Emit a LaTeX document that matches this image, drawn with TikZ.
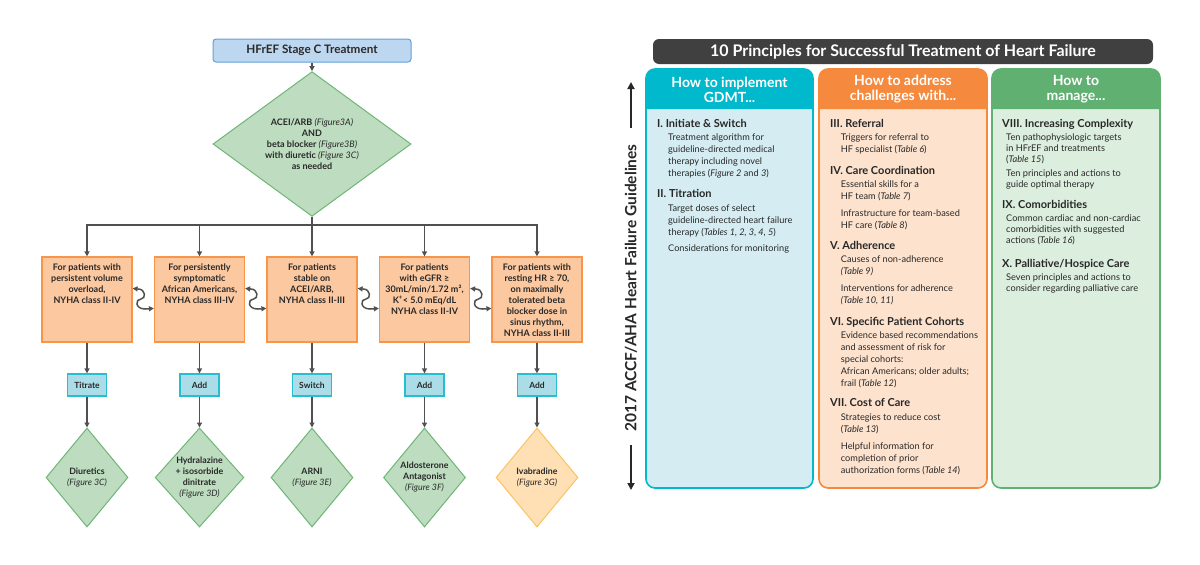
\documentclass[tikz,border=0pt]{standalone}
\usepackage{fontspec}
\setmainfont{Lato}
\usetikzlibrary{shapes.geometric,arrows.meta,calc}
\definecolor{conncol}{RGB}{80,80,80}
\definecolor{txt}{RGB}{40,40,40}
\definecolor{topfill}{RGB}{190,215,240}
\definecolor{topdraw}{RGB}{100,160,215}
\definecolor{gfill}{RGB}{190,221,192}
\definecolor{gdraw}{RGB}{110,181,118}
\definecolor{ofill}{RGB}{251,200,160}
\definecolor{odraw}{RGB}{247,150,75}
\definecolor{cfill}{RGB}{170,221,231}
\definecolor{cdraw}{RGB}{40,190,210}
\definecolor{yfill}{RGB}{255,224,180}
\definecolor{ydraw}{RGB}{250,195,100}
\definecolor{titlebg}{RGB}{64,64,64}
\definecolor{bluehd}{RGB}{0,185,205}
\definecolor{bluebd}{RGB}{213,237,242}
\definecolor{orahd}{RGB}{245,138,62}
\definecolor{orabd}{RGB}{253,226,206}
\definecolor{grnhd}{RGB}{96,176,114}
\definecolor{grnbd}{RGB}{220,238,222}
\newcommand\fsz[2]{\fontsize{#1}{#2}\selectfont}
\newcommand\para[1]{\parbox[t]{155pt}{\raggedright #1}}
\newcommand\fig[1]{{\mdseries\itshape #1}}
\newcommand\boxtxt[1]{\parbox[c][71pt][t]{88pt}{\centering #1}}
\newcommand\sconn[3]{\draw[darr] ($(#1.north east)+(0,32)$) -- (#3+6,289) .. controls (#3+14,289) and (#3+14,299) .. (#3+9,299) .. controls (#3+3,299) and (#3+3,309) .. (#3+13,309) -- ($(#2.north west)+(0,52)$);}
\newcommand\pcol[4]{%
 \draw[draw=#3, fill=#4, line width=1.6pt, rounded corners=9pt] (#1,69) rectangle (#2,488);
 \fill[#3] (#1,109) [rounded corners=9pt] -- (#1,69) -- (#2,69) [sharp corners] -- (#2,109) -- cycle;}
\begin{document}
\begin{tikzpicture}[x=1pt,y=-1pt,
 conn/.style={draw=conncol,line width=1.5pt},
 arr/.style={conn,-{Triangle[length=5pt,width=5pt]}},
 darr/.style={conn,{Triangle[length=5pt,width=5pt]}-{Triangle[length=5pt,width=5pt]}},
 varr/.style={draw=txt,line width=2.4pt,-{Triangle[length=7pt,width=7pt]}},
 topbox/.style={draw=topdraw,fill=topfill,line width=1pt,rounded corners=3pt,minimum width=198pt,minimum height=23pt,inner sep=0pt,font=\bfseries\fsz{11.7}{13},text=txt},
 gdia/.style={diamond,draw=gdraw,fill=gfill,line width=1pt,inner sep=0pt,align=center,font=\bfseries\fsz{8.8}{11},text=txt},
 ydia/.style={gdia,draw=ydraw,fill=yfill},
 pbox/.style={draw=odraw,fill=ofill,line width=1.2pt,minimum width=90pt,minimum height=85pt,inner sep=0pt,font=\bfseries\fsz{9}{11},text=txt},
 abox/.style={draw=cdraw,fill=cfill,line width=1.2pt,minimum width=39pt,minimum height=22pt,inner sep=0pt,font=\bfseries\fsz{8.5}{9},text=txt},
 hd/.style={text=white,font=\bfseries\fsz{14}{15},align=center,inner sep=0pt},
 sec/.style={anchor=base west,inner sep=0pt,font=\bfseries\fsz{11}{12},text=txt},
 sub/.style={anchor=base west,inner sep=0pt,font=\fsz{9.2}{12.2},text=txt},
 subg/.style={anchor=base west,inner sep=0pt,font=\fsz{9.2}{11},text=txt},
]
\fill[white] (0,0) rectangle (1200,565);
\useasboundingbox (0,0) rectangle (1200,565);
% ---------- left flowchart ----------
\node[topbox] (top) at (312,50.5) {HFrEF Stage C Treatment};
\node[gdia,font=\bfseries\fsz{9}{11},minimum width=198pt,minimum height=98pt] (dia) at (312,144)
 {ACEI/ARB \fig{(Figure3A)}\\AND\\beta blocker \fig{(Figure3B)}\\with diuretic \fig{(Figure 3C)}\\as needed};
\coordinate (bus) at (312,225);
\node[pbox] (b1) at (87,299.5) {\boxtxt{For patients with\\persistent volume\\overload,\\NYHA class II-IV}};
\node[pbox] (b2) at (199.5,299.5) {\boxtxt{For persistently\\symptomatic\\African Americans,\\NYHA class III-IV}};
\node[pbox] (b3) at (312,299.5) {\boxtxt{For patients\\stable on\\ACEI/ARB,\\NYHA class II-III}};
\node[pbox] (b4) at (424.5,299.5) {\boxtxt{For patients\\with eGFR ≥\\30mL/min/1.72 m²,\\K\textsuperscript{+}< 5.0 mEq/dL\\NYHA class II-IV}};
\node[pbox] (b5) at (537,299.5) {\boxtxt{For patients with\\resting HR ≥ 70,\\on maximally\\tolerated beta\\blocker dose in\\sinus rhythm,\\NYHA class II-III}};
\node[abox] (a1) at (87,385) {Titrate};
\node[abox] (a2) at (199.5,385) {Add};
\node[abox] (a3) at (312,385) {Switch};
\node[abox] (a4) at (424.5,385) {Add};
\node[abox] (a5) at (537,385) {Add};
\node[gdia,minimum width=82pt,minimum height=99pt] (d1) at (87,477.5) {Diuretics\\\fig{(Figure 3C)}};
\node[gdia,minimum width=82pt,minimum height=99pt] (d2) at (199.5,477.5) {Hydralazine\\+ isosorbide\\dinitrate\\\fig{(Figure 3D)}};
\node[gdia,minimum width=82pt,minimum height=99pt] (d3) at (312,477.5) {ARNI\\\fig{(Figure 3E)}};
\node[gdia,minimum width=82pt,minimum height=99pt] (d4) at (424.5,477.5) {Aldosterone\\Antagonist\\\fig{(Figure 3F)}};
\node[ydia,minimum width=82pt,minimum height=99pt] (d5) at (537,477.5) {Ivabradine\\\fig{(Figure 3G)}};
\draw[arr] (top) -- (dia);
\foreach \b in {b1,b2,b3,b4,b5} \draw[arr] (dia.south) -- (bus) -| (\b.north);
\foreach \i in {1,...,5} {\draw[arr] (b\i.south) -- (a\i.north); \draw[arr] (a\i.south) -- (d\i.north);}
\sconn{b1}{b2}{132}
\sconn{b2}{b3}{244.5}
\sconn{b3}{b4}{357}
\sconn{b4}{b5}{469.5}
% ---------- right panel ----------
\node[fill=titlebg,rounded corners=6pt,minimum width=500pt,minimum height=25pt,text=white,font=\bfseries\fsz{16}{17},inner sep=0pt] (title) at (903,51.5) {10 Principles for Successful Treatment of Heart Failure};
\pcol{646}{813}{bluehd}{bluebd}
\pcol{819}{987}{orahd}{orabd}
\pcol{992}{1160}{grnhd}{grnbd}
\node[hd] (h1) at (729.5,89.5) {How to implement\\GDMT...};
\node[hd] (h2) at (903,89.5) {How to address\\challenges with...};
\node[hd] (h3) at (1076,89.5) {How to\\manage...};
\node[rotate=90,inner sep=0pt,font=\bfseries\fsz{15.5}{16},text=txt] (vt) at (631,288) {2017 ACCF/AHA Heart Failure Guidelines};
\draw[varr] ($(vt.east)+(0,-16)$) -- (631,82);
\draw[varr] ($(vt.west)+(0,13)$) -- (631,490);
% blue column
\node[sec] (s1) at (657,127.6) {I. Initiate \& Switch};
\node[sub] (t1) at (668,140.3) {\para{Treatment algorithm for\\guideline-directed medical\\therapy including novel\\therapies (\textit{Figure 2} and \textit{3})}};
\node[sec] (s2) at (657,197.9) {II. Titration};
\node[sub] (t2) at (668,211.3) {\para{Target doses of select\\guideline-directed heart failure\\therapy (\textit{Tables 1, 2, 3, 4, 5})}};
\node[sub] (t3) at (668,251.3) {Considerations for monitoring};
% orange column
\node[sec] (s3) at (830,127.6) {III. Referral};
\node[sub] (t4) at (840.7,140.7) {\para{Triggers for referral to\\HF specialist (\textit{Table 6})}};
\node[sec] (s4) at (830,174.3) {IV. Care Coordination};
\node[sub] (t5) at (840.7,187) {\para{Essential skills for a\\HF team (\textit{Table 7})}};
\node[sub] (t6) at (840.7,216.3) {\para{Infrastructure for team-based\\HF care (\textit{Table 8})}};
\node[sec] (s5) at (830,249.6) {V. Adherence};
\node[sub] (t7) at (840.7,262.3) {\para{Causes of non-adherence\\\textit{(Table 9)}}};
\node[sub] (t8) at (840.7,291.7) {\para{Interventions for adherence\\\textit{(Table 10, 11)}}};
\node[sec] (s6) at (830,325.3) {VI. Specific Patient Cohorts};
\node[sub] (t9) at (840.7,338) {\para{Evidence based recommendations\\and assessment of risk for\\special cohorts:\\African Americans; older adults;\\frail (\textit{Table 12})}};
\node[sec] (s7) at (830,406.9) {VII. Cost of Care};
\node[sub] (t10) at (840.7,420) {\para{Strategies to reduce cost\\(\textit{Table 13})}};
\node[sub] (t11) at (840.7,449) {\para{Helpful information for\\completion of prior\\authorization forms (\textit{Table 14})}};
% green column
\node[sec] (s8) at (1002,127.9) {VIII. Increasing Complexity};
\node[subg] (t12) at (1006,140.7) {\para{Ten pathophysiologic targets\\in HFrEF and treatments\\(\textit{Table 15})}};
\node[subg] (t13) at (1006,176) {\para{Ten principles and actions to\\guide optimal therapy}};
\node[sec] (s9) at (1002,208.6) {IX. Comorbidities};
\node[subg] (t14) at (1006,221.5) {\para{Common cardiac and non-cardiac\\comorbidities with suggested\\actions (\textit{Table 16})}};
\node[sec] (s10) at (1002,267.6) {X. Palliative/Hospice Care};
\node[subg] (t15) at (1006,280) {\para{Seven principles and actions to\\consider regarding palliative care}};
\end{tikzpicture}
\end{document}
